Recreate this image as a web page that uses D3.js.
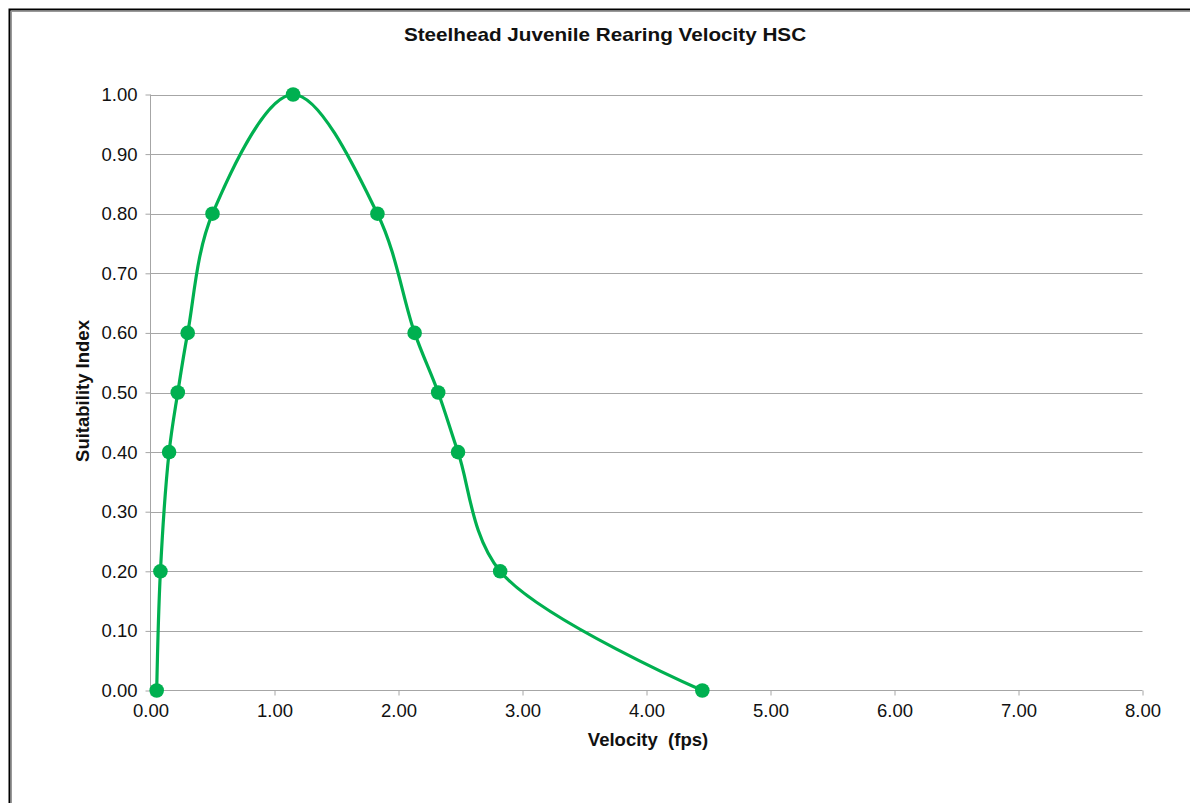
<!DOCTYPE html>
<html>
<head>
<meta charset="utf-8">
<script src="https://cdn.jsdelivr.net/npm/d3@7"></script>
<style>
  html, body { margin: 0; padding: 0; background: #fff; }
  svg { display: block; font-family: Arial, "Liberation Sans", sans-serif; }
</style>
</head>
<body>
<svg id="chart" width="1190" height="803"></svg>
<script>
const chartTitle = "Steelhead Juvenile Rearing Velocity HSC";
const xTitle = "Velocity  (fps)";
const yTitle = "Suitability Index";
const velocity = [0.05, 0.08, 0.15, 0.22, 0.30, 0.50, 1.15, 1.83, 2.13, 2.32, 2.48, 2.82, 4.45];
const suitability = [0.00, 0.20, 0.40, 0.50, 0.60, 0.80, 1.00, 0.80, 0.60, 0.50, 0.40, 0.20, 0.00];
const xTicks = [0, 1, 2, 3, 4, 5, 6, 7, 8];
const yTicks = [0, 0.1, 0.2, 0.3, 0.4, 0.5, 0.6, 0.7, 0.8, 0.9, 1.0];

(function () {
const svg = d3.select("#chart");
const W = 1190, H = 803;
const pLeft = 150.5, pRight = 1142.5, pTop = 94.5, pBottom = 690.5;
const FONT = "Arial, 'Liberation Sans', sans-serif";

// frame
svg.append("rect").attr("x", 9.5).attr("y", 9.5).attr("width", W).attr("height", H)
  .attr("fill", "#fff").attr("stroke", "#000").attr("stroke-width", 2);
svg.append("line").attr("x1", 11).attr("x2", W).attr("y1", 11.5).attr("y2", 11.5).attr("stroke", "#999").attr("stroke-width", 1);
svg.append("line").attr("x1", 11.5).attr("x2", 11.5).attr("y1", 11).attr("y2", H).attr("stroke", "#999").attr("stroke-width", 1);

const x = d3.scaleLinear().domain([0, 8]).range([pLeft, pRight]);
const y = d3.scaleLinear().domain([0, 1]).range([pBottom, pTop]);

// gridlines
svg.append("g").selectAll("line").data(yTicks.filter(d => d > 0)).join("line")
  .attr("x1", pLeft).attr("x2", pRight)
  .attr("y1", d => Math.round(y(d)) + 0.5).attr("y2", d => Math.round(y(d)) + 0.5)
  .attr("stroke", "#a6a6a6").attr("stroke-width", 1);

// y axis
const yAxis = svg.append("g").attr("transform", `translate(${pLeft},0)`)
  .call(d3.axisLeft(y).tickValues(yTicks).tickFormat(d3.format(".2f")).tickSize(5).tickPadding(8));
yAxis.select(".domain").attr("stroke", "#a6a6a6").attr("d", `M0,${pTop}V${pBottom}`);
yAxis.selectAll(".tick line").attr("stroke", "#a6a6a6");
yAxis.selectAll(".tick text").attr("font-size", 18.5).attr("fill", "#111").attr("font-family", FONT);

// x axis
const xAxis = svg.append("g").attr("transform", `translate(0,${pBottom})`)
  .call(d3.axisBottom(x).tickValues(xTicks).tickFormat(d3.format(".2f")).tickSize(5).tickPadding(8));
xAxis.select(".domain").attr("stroke", "#a6a6a6").attr("d", `M${pLeft},0H${pRight}`);
xAxis.selectAll(".tick line").attr("stroke", "#a6a6a6");
xAxis.selectAll(".tick text").attr("font-size", 18.5).attr("fill", "#111").attr("font-family", FONT);

// data
const pts = velocity.map((v, i) => [v, suitability[i]]);
const line = d3.line().x(d => x(d[0])).y(d => y(d[1])).curve(d3.curveCatmullRom.alpha(0.5));
svg.append("path").datum(pts).attr("d", line)
  .attr("fill", "none").attr("stroke", "#00b050").attr("stroke-width", 3.2);
svg.append("g").selectAll("circle").data(pts).join("circle")
  .attr("cx", d => x(d[0])).attr("cy", d => y(d[1])).attr("r", 7.3)
  .attr("fill", "#00b050");

// titles
svg.append("text").attr("transform", "translate(605,41) scale(1.15,1)").attr("text-anchor", "middle")
  .attr("font-size", 18).attr("font-weight", "bold").attr("fill", "#111").text(chartTitle);
svg.append("text").attr("x", 648).attr("y", 746).attr("text-anchor", "middle")
  .attr("font-size", 18.5).attr("font-weight", "bold").attr("fill", "#111").style("white-space", "pre").text(xTitle);
svg.append("text").attr("transform", "translate(89,391) rotate(-90)").attr("text-anchor", "middle")
  .attr("font-size", 18.5).attr("font-weight", "bold").attr("fill", "#111").text(yTitle);
})();
</script>
</body>
</html>
